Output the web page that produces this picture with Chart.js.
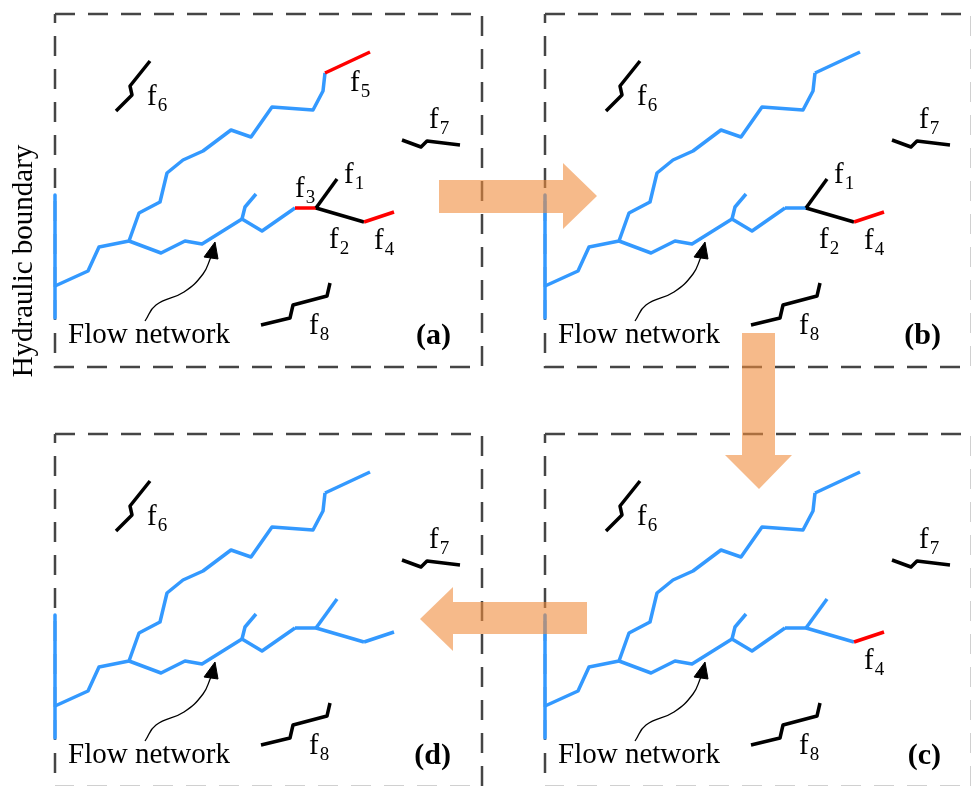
<!DOCTYPE html>
<html>
<head>
<meta charset="utf-8">
<script src="https://cdn.jsdelivr.net/npm/chart.js@4.4.0/dist/chart.umd.min.js"></script>
<style>
html, body { margin: 0; padding: 0; background: #fff; overflow: hidden; }
#wrap { position: relative; width: 971px; height: 786px; }
canvas { position: absolute; }
</style>
</head>
<body>
<div id="wrap">
  <canvas id="panelA" width="490" height="400" style="left:0;top:0"></canvas>
  <canvas id="panelB" width="490" height="400" style="left:490px;top:0"></canvas>
  <canvas id="panelC" width="490" height="380" style="left:490px;top:420px"></canvas>
  <canvas id="panelD" width="490" height="380" style="left:0;top:420px"></canvas>
  <canvas id="overlay" width="971" height="786" style="left:0;top:0"></canvas>
</div>
<script>
// panel geometry, in the local units of one panel (all four panels share it)
const frameX = [55, 482, 482, 55, 55];
const frameY = [14, 14, 367, 367, 14];
const boundaryX = [55, 55];
const boundaryY = [195, 318];
const trunkX = [55, 88, 99, 129, 139, 160, 167, 183, 203, 231, 251, 272, 313, 323, 325];
const trunkY = [286, 271, 247, 241, 213, 202, 173, 160, 151, 130, 137, 107, 110, 91, 73];
const branchX = [129, 161, 185, 202, 242, 262, 295];
const branchY = [241, 253, 241, 244, 219, 231, 208];
const spurX = [242, 245, 256];
const spurY = [219, 207, 194];
const f1X = [316, 337];  const f1Y = [208, 179];
const f2X = [316, 364];  const f2Y = [208, 222];
const f3X = [295, 316];  const f3Y = [208, 208];
const f4X = [364, 394];  const f4Y = [222, 212];
const f5X = [325, 370];  const f5Y = [73, 52];
const f6X = [116, 132, 130, 150];  const f6Y = [111, 95, 86, 61];
const f7X = [402, 421, 427, 460];  const f7Y = [140, 147, 141, 145];
const f8X = [261, 290, 293, 327, 330];  const f8Y = [325, 318, 305, 296, 283];
const calloutX = [145, 156, 184, 203, 211];
const calloutY = [321, 305, 292, 274, 257];
const headX = [204, 215, 218, 204];
const headY = [257, 242, 259, 257];

// labels
const fNames = ['1', '2', '3', '4', '5', '6', '7', '8'];
const fLabelX = [344, 329, 295, 374, 350, 147, 429, 309];
const fLabelY = [183, 248, 197, 249, 91, 105, 128, 334];
const panelNames = ['(a)', '(b)', '(c)', '(d)'];

// transition arrows, page units
const arrowABx = [439, 563, 563, 597, 563, 563, 439];
const arrowABy = [180, 180, 163, 196, 229, 213, 213];
const arrowBCx = [742, 775, 775, 792, 759, 725, 742];
const arrowBCy = [333, 333, 455, 455, 489, 455, 455];
const arrowCDx = [587, 453, 453, 420, 453, 453, 587];
const arrowCDy = [602, 602, 587, 619, 651, 634, 634];

const BLUE = '#3399ff', RED = '#ff0000', BLACK = '#000000';
const SERIF = '"Liberation Serif", "Times New Roman", serif';

// colour of f1..f5 and which labels show, per stage
const stages = [
  { id: 'panelA', name: 0, f: [BLACK, BLACK, RED, RED, RED], labels: [0, 1, 2, 3, 4, 5, 6, 7] },
  { id: 'panelB', name: 1, f: [BLACK, BLACK, BLUE, RED, BLUE], labels: [0, 1, 3, 5, 6, 7] },
  { id: 'panelC', name: 2, f: [BLUE, BLUE, BLUE, RED, BLUE], labels: [3, 5, 6, 7] },
  { id: 'panelD', name: 3, f: [BLUE, BLUE, BLUE, BLUE, BLUE], labels: [5, 6, 7] }
];

function pts(xs, ys) { return xs.map((x, i) => ({ x: x, y: ys[i] })); }

function line(xs, ys, color, width, extra) {
  return Object.assign({
    data: pts(xs, ys), borderColor: color, borderWidth: width, showLine: true,
    pointRadius: 0, fill: false, tension: 0, clip: false,
    borderJoinStyle: 'round', borderCapStyle: 'butt'
  }, extra || {});
}

function textPlugin(stage) {
  return {
    id: 'panelText',
    afterDatasetsDraw(chart) {
      const c = chart.ctx, xs = chart.scales.x, ys = chart.scales.y;
      c.save();
      c.fillStyle = '#000';
      c.textBaseline = 'alphabetic';
      stage.labels.forEach(i => {
        const px = xs.getPixelForValue(fLabelX[i]), py = ys.getPixelForValue(fLabelY[i]);
        c.textAlign = 'left';
        c.font = '29px ' + SERIF;
        c.fillText('f', px, py);
        const w = c.measureText('f').width;
        c.font = '19px ' + SERIF;
        c.fillText(fNames[i], px + w + 1, py + 6);
      });
      c.font = '29px ' + SERIF;
      c.textAlign = 'left';
      c.fillText('Flow network', xs.getPixelForValue(68), ys.getPixelForValue(343));
      c.font = 'bold 30px ' + SERIF;
      c.textAlign = 'right';
      c.fillText(panelNames[stage.name], xs.getPixelForValue(451), ys.getPixelForValue(344));
      c.restore();
    }
  };
}

const hiddenScales = (w, h) => ({
  x: { type: 'linear', min: 0, max: w, display: false },
  y: { type: 'linear', min: 0, max: h, reverse: true, display: false }
});

stages.forEach(stage => {
  const cv = document.getElementById(stage.id);
  // Chart.js paints the first dataset last, so the frame goes at the end
  const datasets = [
    line(headX, headY, BLACK, 1, { fill: 'shape', backgroundColor: BLACK }),
    line(calloutX, calloutY, BLACK, 1.3, { tension: 0.45 }),
    line(f8X, f8Y, BLACK, 3.5),
    line(f7X, f7Y, BLACK, 3.5),
    line(f6X, f6Y, BLACK, 3.5),
    line(f4X, f4Y, stage.f[3], 3.5),
    line(f2X, f2Y, stage.f[1], 3.5),
    line(f1X, f1Y, stage.f[0], 3.5),
    line(f5X, f5Y, stage.f[4], 3.5),
    line(f3X, f3Y, stage.f[2], 3.5),
    line(spurX, spurY, BLUE, 3.5),
    line(branchX, branchY, BLUE, 3.5),
    line(trunkX, trunkY, BLUE, 3.5),
    line(boundaryX, boundaryY, BLUE, 3.5),
    line(frameX, frameY, '#454545', 2.5, { borderDash: [20, 13], borderJoinStyle: 'miter' })
  ];
  new Chart(cv.getContext('2d'), {
    type: 'scatter',
    data: { datasets: datasets },
    options: {
      responsive: false, animation: false, devicePixelRatio: 1,
      layout: { padding: 0 },
      scales: hiddenScales(cv.width, cv.height),
      plugins: { legend: { display: false }, tooltip: { enabled: false } }
    },
    plugins: [textPlugin(stage)]
  });
});

// orange stage arrows and the side caption, drawn over the panels
const ORANGE = 'rgba(240, 140, 60, 0.6)';
const ov = document.getElementById('overlay');
new Chart(ov.getContext('2d'), {
  type: 'scatter',
  data: {
    datasets: [
      line(arrowABx, arrowABy, 'rgba(0,0,0,0)', 0, { fill: 'shape', backgroundColor: ORANGE, borderJoinStyle: 'miter' }),
      line(arrowBCx, arrowBCy, 'rgba(0,0,0,0)', 0, { fill: 'shape', backgroundColor: ORANGE, borderJoinStyle: 'miter' }),
      line(arrowCDx, arrowCDy, 'rgba(0,0,0,0)', 0, { fill: 'shape', backgroundColor: ORANGE, borderJoinStyle: 'miter' })
    ]
  },
  options: {
    responsive: false, animation: false, devicePixelRatio: 1,
    layout: { padding: 0 },
    scales: hiddenScales(971, 786),
    plugins: { legend: { display: false }, tooltip: { enabled: false } }
  },
  plugins: [{
    id: 'sideCaption',
    afterDatasetsDraw(chart) {
      const c = chart.ctx;
      c.save();
      c.translate(chart.scales.x.getPixelForValue(24), chart.scales.y.getPixelForValue(261));
      c.rotate(-Math.PI / 2);
      c.font = '29px ' + SERIF;
      c.fillStyle = '#000';
      c.textAlign = 'center';
      c.textBaseline = 'middle';
      c.fillText('Hydraulic boundary', 0, 0);
      c.restore();
    }
  }]
});
</script>
</body>
</html>
